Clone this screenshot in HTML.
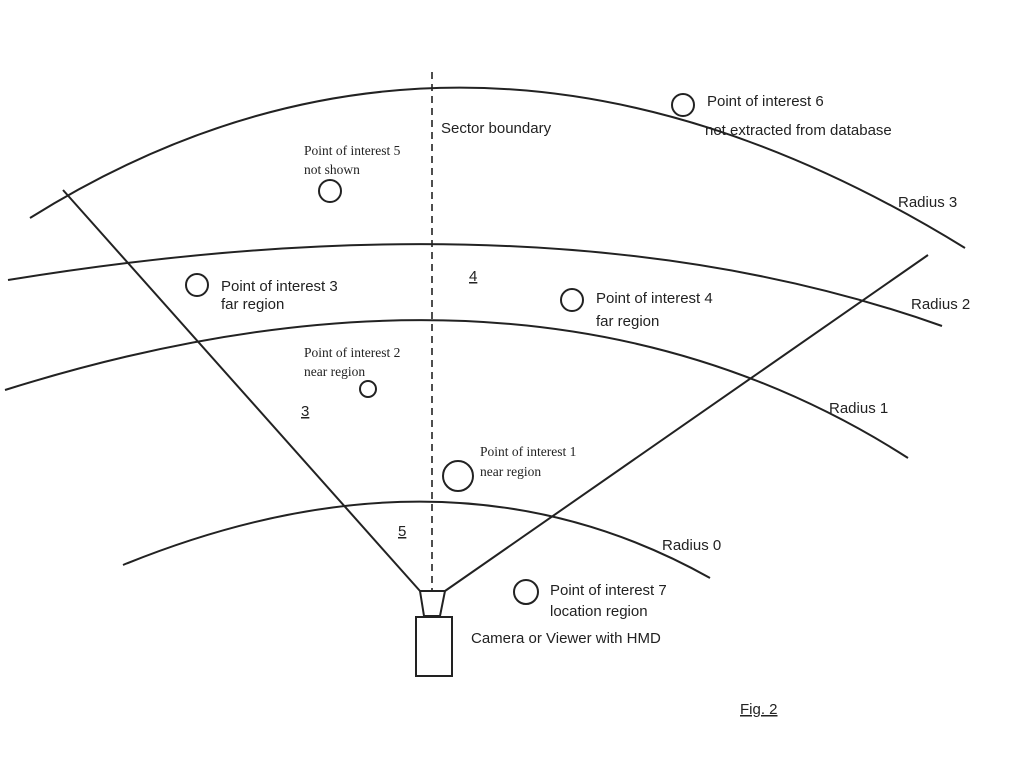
<!DOCTYPE html>
<html><head><style>
body{margin:0;background:#fff;}
svg{display:block}
.s{font-family:"Liberation Sans",sans-serif;font-size:15px;fill:#222}
.r{font-family:"Liberation Serif",serif;font-size:13.5px;fill:#222}
</style></head><body>
<svg width="1024" height="783" viewBox="0 0 1024 783">
<g fill="none" stroke="#222" stroke-width="2">
<path d="M30,218 Q470,-57 965,248"/>
<path d="M8,280 Q560,190 942,326"/>
<path d="M5,390 Q540,222 908,458"/>
<path d="M123,565 Q450,432 710,578"/>
<line x1="63" y1="190" x2="420" y2="591"/>
<line x1="928" y1="255" x2="445" y2="591"/>
<line x1="432" y1="72" x2="432" y2="591" stroke-dasharray="7,5" stroke-width="1.6"/>
<path d="M420,591 L445,591 L440,616 L424,616 Z"/>
<rect x="416" y="617" width="36" height="59"/>
<circle cx="683" cy="105" r="11"/>
<circle cx="330" cy="191" r="11"/>
<circle cx="197" cy="285" r="11"/>
<circle cx="572" cy="300" r="11"/>
<circle cx="368" cy="389" r="8"/>
<circle cx="458" cy="476" r="15"/>
<circle cx="526" cy="592" r="12"/>
</g>
<text class="s" x="707" y="106">Point of interest 6</text>
<text class="s" x="705" y="135">not extracted from database</text>
<text class="s" x="441" y="133">Sector boundary</text>
<text class="r" x="304" y="155">Point of interest  5</text>
<text class="r" x="304" y="174">not shown</text>
<text class="s" x="898" y="207">Radius 3</text>
<text class="s" x="221" y="291">Point of interest 3</text>
<text class="s" x="221" y="309">far region</text>
<text class="s" x="469" y="281" text-decoration="underline">4</text>
<text class="s" x="596" y="303">Point of interest 4</text>
<text class="s" x="596" y="326">far region</text>
<text class="s" x="911" y="309">Radius 2</text>
<text class="r" x="304" y="357">Point of interest  2</text>
<text class="r" x="304" y="376">near region</text>
<text class="s" x="301" y="416" text-decoration="underline">3</text>
<text class="s" x="829" y="413">Radius 1</text>
<text class="r" x="480" y="456">Point of interest  1</text>
<text class="r" x="480" y="476">near region</text>
<text class="s" x="398" y="536" text-decoration="underline">5</text>
<text class="s" x="662" y="550">Radius 0</text>
<text class="s" x="550" y="595">Point of interest 7</text>
<text class="s" x="550" y="616">location region</text>
<text class="s" x="471" y="643">Camera or Viewer with HMD</text>
<text class="s" x="740" y="714" text-decoration="underline">Fig. 2</text>
</svg>
</body></html>
